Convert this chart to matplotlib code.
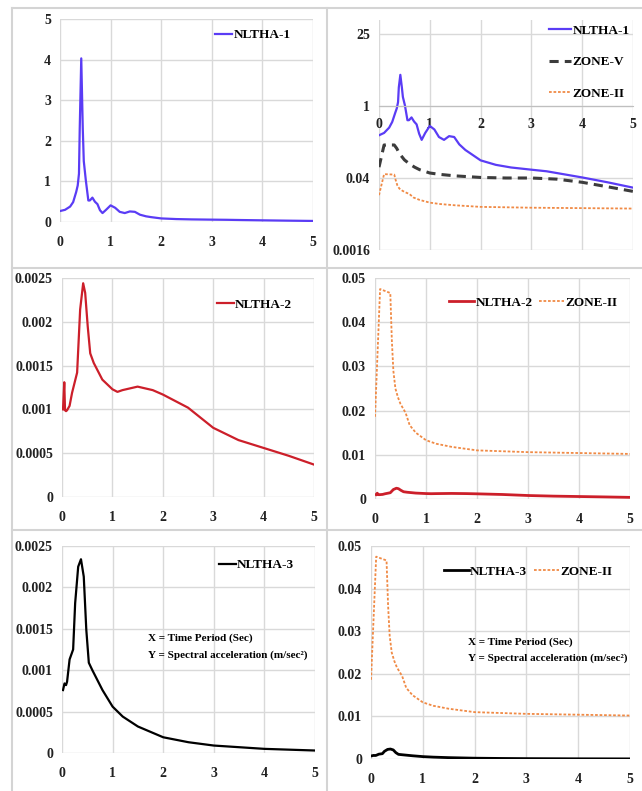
import matplotlib
matplotlib.use("Agg")
import matplotlib.pyplot as plt
from matplotlib.lines import Line2D
from matplotlib.ticker import FixedLocator, FuncFormatter, NullLocator

# time period (sec) and spectral acceleration values
t1 = [0, 0.1, 0.2, 0.26, 0.32, 0.35, 0.375, 0.39, 0.42, 0.45, 0.47, 0.51, 0.56, 0.59,
      0.64, 0.69, 0.74, 0.79, 0.84, 0.91, 1.0, 1.09, 1.18, 1.28, 1.38, 1.48, 1.58,
      1.7, 1.8, 2.0, 2.3, 2.6, 3.0, 3.3, 3.6, 4.0, 4.5, 5.0]
nltha1 = [0.27, 0.30, 0.38, 0.49, 0.74, 0.9, 1.19, 2.3, 4.03, 2.3, 1.5, 1.03, 0.53, 0.53,
          0.6, 0.5, 0.44, 0.29, 0.22, 0.3, 0.41, 0.35, 0.25, 0.22, 0.26, 0.25, 0.18,
          0.14, 0.12, 0.088, 0.072, 0.064, 0.058, 0.054, 0.048, 0.041, 0.033, 0.026]

t_zone5 = [0, 0.1, 0.3, 0.35, 0.4, 0.5, 0.6, 0.7, 0.8, 1.0, 1.2, 1.5, 2.0, 2.5, 3.0,
           3.5, 4.0, 4.5, 5.0]
zone5 = [0.065, 0.175, 0.175, 0.15, 0.12, 0.09, 0.075, 0.065, 0.058, 0.05, 0.047,
         0.044, 0.041, 0.04, 0.04, 0.038, 0.033, 0.027, 0.022]

t_zone2 = [0, 0.1, 0.3, 0.33, 0.36, 0.4, 0.45, 0.5, 0.6, 0.68, 0.8, 1.0, 1.2, 1.5,
           2.0, 2.5, 3.0, 4.0, 5.0]
zone2 = [0.0186, 0.0475, 0.0466, 0.036, 0.029, 0.025, 0.023, 0.0215, 0.0195, 0.0167,
         0.015, 0.0133, 0.0125, 0.0118, 0.011, 0.0108, 0.0106, 0.0104, 0.0102]

t2 = [0.02, 0.045, 0.06, 0.08, 0.1, 0.15, 0.2, 0.3, 0.36, 0.42, 0.46, 0.51, 0.56, 0.63,
      0.8, 1.0, 1.1, 1.2, 1.5, 1.8, 2.0, 2.5, 3.0, 3.5, 4.0, 4.5, 5.0]
nltha2 = [0.001, 0.00131, 0.00099, 0.00098, 0.00099, 0.00104, 0.00119, 0.00142,
          0.00214, 0.00244, 0.00233, 0.00195, 0.00164, 0.00153, 0.00134, 0.00123,
          0.0012, 0.00122, 0.00126, 0.00122, 0.00117, 0.00102, 0.00079, 0.00065,
          0.00056, 0.00047, 0.00037]

t3 = [0.02, 0.05, 0.08, 0.1, 0.15, 0.22, 0.26, 0.32, 0.375, 0.43, 0.48, 0.53, 0.6,
      0.8, 1.0, 1.2, 1.5, 2.0, 2.5, 3.0, 4.0, 5.0]
nltha3 = [0.00076, 0.00084, 0.00082, 0.00086, 0.00113, 0.00125, 0.00181, 0.00225,
          0.00234, 0.00213, 0.00149, 0.00109, 0.00100, 0.00076, 0.00056, 0.00044,
          0.00032, 0.00019, 0.00013, 0.00009, 0.00005, 0.00003]

blue = "#5a3cf5"
red = "#cc1f2a"
orange = "#f08a45"
grey = "#3c3c3c"
gridc = "#d9d9d9"

plt.rcParams["font.family"] = ["Liberation Serif", "DejaVu Serif"]
plt.rcParams["font.weight"] = "bold"

W, H = 642, 791
fig = plt.figure(figsize=(W / 100, H / 100), dpi=100)


def panel(l, r, t, b):
    ax = fig.add_axes([l / W, 1 - b / H, (r - l) / W, (b - t) / H])
    for s in ax.spines.values():
        s.set_visible(False)
    ax.grid(True, color=gridc, lw=1)
    ax.set_axisbelow(True)
    ax.tick_params(length=0, labelsize=10, colors="#222222")
    ax.tick_params(axis="x", pad=10)
    ax.tick_params(axis="y", pad=6.5)
    ax.set_xlim(0, 5)
    ax.set_xticks(range(6))
    ax.yaxis.set_major_formatter(FuncFormatter(lambda v, p: "{:g}".format(round(v, 6))))
    return ax


def legend(ax, x, y, ncol=1, hl=1.3, sp=0.5):
    ax.legend(loc="center right", bbox_to_anchor=(x, y), frameon=False, ncol=ncol,
              handlelength=hl, handletextpad=0.1, borderpad=0, columnspacing=0.5,
              labelspacing=sp, prop={"size": 9.5, "weight": "bold"})


def note(ax, x, y1, y2):
    ax.text(x, y1, "X = Time Period (Sec)", transform=ax.transAxes, fontsize=8,
            va="center", weight="bold")
    ax.text(x, y2, "Y = Spectral acceleration (m/sec²)", transform=ax.transAxes,
            fontsize=8, va="center", weight="bold")


# top left
ax = panel(60, 313, 19, 222)
ax.plot(t1, nltha1, color=blue, lw=1.6, label="NLTHA-1")
ax.set_ylim(0, 5)
ax.set_yticks(range(6))
legend(ax, 0.938, 0.92)

# top right (log axis, base 25)
ax = panel(379, 633, 20, 250)
ax.plot(t1, nltha1, color=blue, lw=1.6, label="NLTHA-1")
ax.plot(t_zone5, zone5, color=grey, lw=2.2, ls=(0, (3, 2)), label="ZONE-V")
ax.plot(t_zone2, zone2, color=orange, lw=1.3, ls=(0, (1.5, 1)), label="ZONE-II")
ax.set_yscale("log", base=25)
ax.set_ylim(0.0016, 25 * 25 ** (14 / 72))
ax.yaxis.set_major_locator(FixedLocator([0.0016, 0.04, 1, 25]))
ax.yaxis.set_minor_locator(NullLocator())
ax.yaxis.set_major_formatter(FuncFormatter(lambda v, p: "{:g}".format(round(v, 6))))
ax.spines["bottom"].set_visible(True)
ax.spines["bottom"].set_position(("data", 1))
ax.spines["bottom"].set_color("#bfbfbf")
ax.tick_params(axis="x", pad=9)
legend(ax, 1.012, 0.817, hl=1.65, sp=1.45)

# middle left
ax = panel(62, 314, 278, 497)
ax.plot(t2, nltha2, color=red, lw=1.6, label="NLTHA-2")
ax.set_ylim(0, 0.0025)
ax.set_yticks([0, 0.0005, 0.001, 0.0015, 0.002, 0.0025])
legend(ax, 0.94, 0.877)

# middle right
ax = panel(375, 630, 278, 499)
ax.plot(t2, nltha2, color=red, lw=2, label="NLTHA-2")
ax.plot(t_zone2, zone2, color=orange, lw=1.3, ls=(0, (1.5, 1)), label="ZONE-II")
ax.set_ylim(0, 0.05)
ax.set_yticks([0, 0.01, 0.02, 0.03, 0.04, 0.05])
legend(ax, 0.977, 0.887, ncol=2, hl=1.9)

# bottom left
ax = panel(62, 315, 546, 753)
ax.plot(t3, nltha3, color="black", lw=1.6, label="NLTHA-3")
ax.set_ylim(0, 0.0025)
ax.set_yticks([0, 0.0005, 0.001, 0.0015, 0.002, 0.0025])
legend(ax, 0.944, 0.908)
note(ax, 0.34, 0.556, 0.473)

# bottom right
ax = panel(371, 630, 546, 759)
ax.plot(t3, nltha3, color="black", lw=2, label="NLTHA-3")
ax.plot(t_zone2, zone2, color=orange, lw=1.3, ls=(0, (1.5, 1)), label="ZONE-II")
ax.set_ylim(0, 0.05)
ax.set_yticks([0, 0.01, 0.02, 0.03, 0.04, 0.05])
legend(ax, 0.957, 0.878, ncol=2, hl=1.9)
note(ax, 0.375, 0.549, 0.474)

# panel frames
bc = "#d4d4d4"
for xs, ys in [((12, 642), (8, 8)), ((12, 12), (8, 791)), ((327, 327), (8, 791)),
               ((12, 642), (268, 268)), ((12, 642), (530, 530))]:
    fig.add_artist(Line2D([x / W for x in xs], [1 - y / H for y in ys], color=bc, lw=1.5))

fig.savefig("out.png", dpi=100)
